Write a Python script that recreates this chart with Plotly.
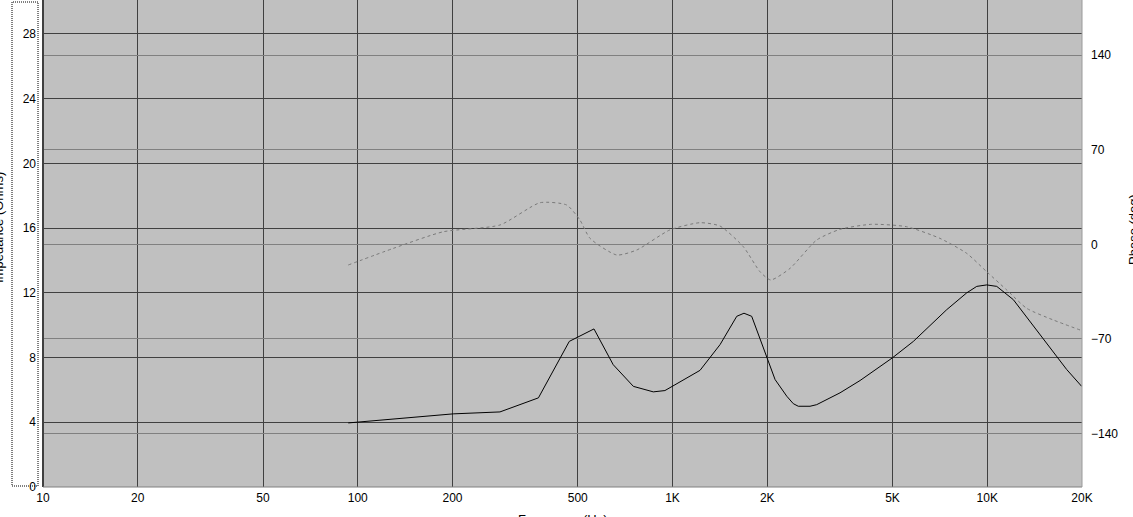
import plotly.graph_objects as go

# ---- data ----
freq_z = [93.3, 201, 283, 375, 470, 563, 648, 751, 869, 946, 1223, 1416, 1600, 1687, 1785,
          1992, 2118, 2307, 2420, 2510, 2735, 2872, 3406, 3943, 4994, 5825, 7434, 8606, 9260, 9963,
          10719, 12100, 15080, 17883, 19953]
impedance = [3.96, 4.52, 4.64, 5.51, 9.0, 9.77, 7.56, 6.22, 5.88, 5.96, 7.21, 8.80, 10.55, 10.74, 10.55,
             8.08, 6.64, 5.61, 5.15, 4.99, 4.99, 5.09, 5.82, 6.58, 7.98, 9.0, 10.96, 12.0, 12.40, 12.49,
             12.40, 11.58, 9.11, 7.26, 6.22]

freq_p = [93.3, 129.7, 187, 283, 379.6, 461, 508, 547, 665, 770, 980, 1223, 1416, 1679, 1897,
          2051, 2363, 2872, 3406, 4288, 5546, 7076, 8606, 9963, 11534, 13350, 16214, 19712]
phase = [-15.3, -3.0, 9.3, 14.3, 30.8, 29.1, 18.0, 4.4, -7.9, -4.2, 10.6, 16.0, 13.5, -1.8, -20.3,
         -26.4, -17.8, 3.2, 11.1, 14.8, 13.0, 4.4, -6.7, -20.3, -33.8, -47.4, -56.0, -63.4]

x_tickvals = [10, 20, 50, 100, 200, 500, 1000, 2000, 5000, 10000, 20000]
x_ticktext = ["10", "20", "50", "100", "200", "500", "1K", "2K", "5K", "10K", "20K"]
z_tickvals = [0, 4, 8, 12, 16, 20, 24, 28]
p_tickvals = [-140, -70, 0, 70, 140]

# ---- layout geometry (pixels) ----
W, H = 1133, 517
L, R, T, B = 43, 51, 0, 30
PW, PH = W - L - R, H - T - B


def px(xp):
    return (xp - L) / PW


def py(yp):
    return (H - B - yp) / PH


FONT = "Liberation Sans"

fig = go.Figure()
fig.add_trace(go.Scatter(x=freq_p, y=phase, yaxis="y2", mode="lines",
                         line=dict(color="#7a7a7a", width=1, dash="3px,3px", shape="spline", smoothing=0.6),
                         hoverinfo="skip", showlegend=False))
fig.add_trace(go.Scatter(x=freq_z, y=impedance, mode="lines",
                         line=dict(color="#000000", width=1),
                         hoverinfo="skip", showlegend=False))

fig.update_layout(
    width=W, height=H,
    margin=dict(l=L, r=R, t=T, b=B, pad=0),
    paper_bgcolor="white", plot_bgcolor="#C0C0C0",
    font=dict(family=FONT, size=12, color="#000000"),
    showlegend=False,
    xaxis=dict(type="log", range=[1, 4.30103], tickvals=x_tickvals, ticktext=x_ticktext,
               showgrid=True, gridcolor="#404040", gridwidth=1, zeroline=False,
               showline=False, ticks="", ticklabelstandoff=2,
               tickfont=dict(family=FONT, size=12, color="#000000")),
    yaxis=dict(range=[0, 30.1], tickvals=z_tickvals, showgrid=True, gridcolor="#404040",
               gridwidth=1, zeroline=False, showline=False, ticks="", ticklabelstandoff=6,
               tickfont=dict(family=FONT, size=12, color="#000000")),
    yaxis2=dict(range=[-179.6, 180.8], tickvals=p_tickvals, overlaying="y", side="right",
                showgrid=True, gridcolor="#808080", gridwidth=1, zeroline=False,
                showline=False, ticks="", ticklabelstandoff=8,
                tickfont=dict(family=FONT, size=12, color="#000000")),
    shapes=[
        # plot frame (3D look)
        dict(type="line", xref="paper", yref="paper", x0=0, x1=0, y0=0, y1=1,
             line=dict(color="#404040", width=2)),
        dict(type="line", xref="paper", yref="paper", x0=0, x1=1, y0=0, y1=0,
             line=dict(color="#808080", width=1)),
        dict(type="line", xref="paper", yref="paper", x0=1, x1=1, y0=0, y1=1,
             line=dict(color="#9a9a9a", width=1)),
        # dotted focus rectangle around the left axis
        dict(type="rect", xref="paper", yref="paper", x0=px(12), x1=px(38), y0=py(486), y1=py(2),
             line=dict(color="#000000", width=1, dash="1px,1px"), fillcolor="rgba(0,0,0,0)"),
    ],
    annotations=[
        dict(text="Impedance (Ohms)", xref="paper", yref="paper", x=px(-1), y=py(228),
             textangle=-90, showarrow=False, xanchor="center", yanchor="middle",
             font=dict(family=FONT, size=13, color="#000000")),
        dict(text="Phase (deg)", xref="paper", yref="paper", x=px(1133), y=py(230),
             textangle=-90, showarrow=False, xanchor="center", yanchor="middle",
             font=dict(family=FONT, size=13, color="#000000")),
        dict(text="Frequency (Hz)", xref="paper", yref="paper", x=px(563), y=py(519),
             showarrow=False, xanchor="center", yanchor="middle",
             font=dict(family=FONT, size=13, color="#000000")),
    ],
)

fig.write_html("out.html", config={"displayModeBar": False},
               post_script="document.body.style.margin='0';")
